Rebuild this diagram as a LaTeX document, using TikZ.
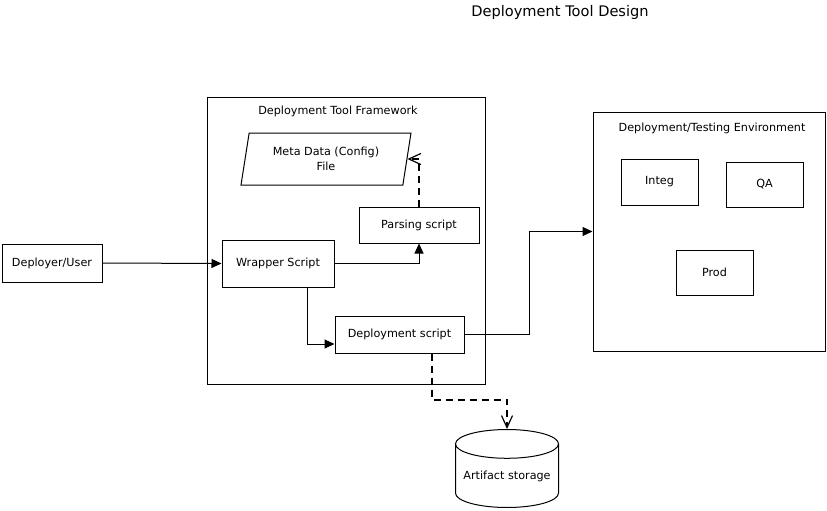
\documentclass[tikz,border=0pt]{standalone}
\usepackage{fontspec}
\setmainfont{DejaVu Sans}
\usetikzlibrary{arrows.meta,shapes.geometric}

\begin{document}
\begin{tikzpicture}[x=1pt,y=-1pt,
        font=\fontsize{11.2}{15}\selectfont,
        box/.style={draw,line width=1pt,inner sep=0pt},
        solidline/.style={line width=1pt,-{Triangle[length=10pt,width=9pt]}},
        dashline/.style={line width=2pt,dash pattern=on 7pt off 5pt,-{Straight Barb[length=12pt,width=11pt,line width=1.2pt]}}]
        \useasboundingbox (0,0) rectangle (827,511);

        \node at (560,12) {\fontsize{14.6}{17}\selectfont Deployment Tool Design};

        \node[box,minimum width=278,minimum height=287] (frame) at (346,240.5) {};
        \node at (338,111) {Deployment Tool Framework};
        \node[box,minimum width=232,minimum height=239] (env) at (709,231.5) {};
        \node at (712,128) {Deployment/Testing Environment};

        \node[box,minimum width=100,minimum height=38] (user) at (52,263) {Deployer/User};
        \node[box,minimum width=112,minimum height=47] (wrap) at (278,263.5) {Wrapper Script};
        \node[box,minimum width=120,minimum height=36] (parse) at (419,225) {Parsing script};
        \node[box,minimum width=129,minimum height=37] (deploy) at (399.5,334.5) {Deployment script};
        \node[box,trapezium,trapezium left angle=71,trapezium right angle=109,trapezium stretches body,minimum width=170,minimum height=52,align=center] (meta) at (326,159) {Meta Data (Config)\\File};

        \node[box,minimum width=77,minimum height=46] (integ) at (659.5,182) {Integ};
        \node[box,minimum width=77,minimum height=45] (qa) at (764.5,184.5) {QA};
        \node[box,minimum width=77,minimum height=45] (prod) at (714.5,272.5) {Prod};

        \node[box,cylinder,shape border rotate=90,aspect=0.33,minimum width=103,minimum height=78,anchor=north] (store) at (507,429) {Artifact storage};

        \draw[solidline](user.east)--(wrap.west);
        \draw[solidline](wrap.east)-|(parse.south);
        \draw[solidline]([xshift=29pt]wrap.south)|-([yshift=-9.5pt]deploy.west);
        \draw[solidline](deploy.east)--++(65,0)|-(env.west);

        \draw[dashline](parse.north)|-(meta.east);
        \draw[dashline]([xshift=32pt]deploy.south)--++(0,46)-|(store.north);

    \end{tikzpicture}
\end{document}
